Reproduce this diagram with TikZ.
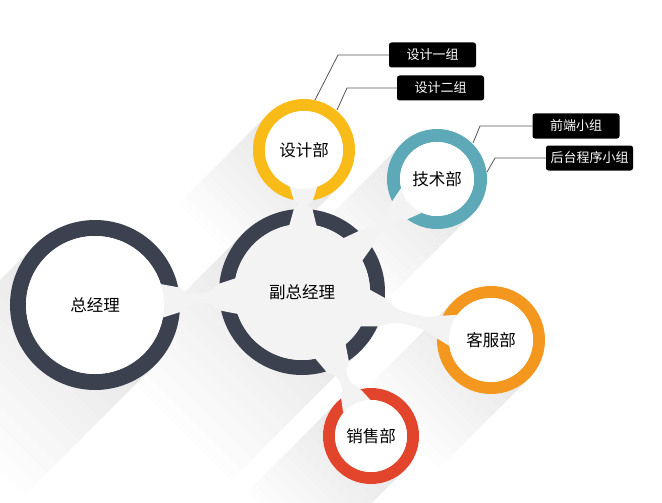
\documentclass[tikz,border=0pt]{standalone}
\usepackage{fontspec}
\newfontfamily\cjk{Noto Sans CJK SC}
\usetikzlibrary{calc}
\definecolor{navy}{HTML}{3C4150}
\definecolor{ylw}{HTML}{F9BB17}
\definecolor{tealc}{HTML}{5EA9B8}
\definecolor{orng}{HTML}{F4971F}
\definecolor{redd}{HTML}{E2452B}
\definecolor{linkc}{HTML}{F3F3F3}
\definecolor{leaderc}{HTML}{555555}

\newcommand\ringdraw[4]{%
  \pgfmathsetmacro\rgR{#2-#3/2}
  \draw[line width=#3pt, #4] (#1) circle (\rgR pt);
}
% layered, fading long shadow: center, radius, max length
\newcommand\longshadow[3]{%
  \foreach \k in {1,...,12}{%
    \pgfmathsetmacro\shL{#3*\k/12}
    \fill[black, opacity=0.006] ($(#1)+(-0.7071*#2,-0.7071*#2)$) -- ($(#1)+(0.7071*#2,0.7071*#2)$)
      -- ($(#1)+(0.7071*#2-\shL,0.7071*#2+\shL)$) -- ($(#1)+(-0.7071*#2-\shL,-0.7071*#2+\shL)$) -- cycle;
  }
}
% #1 c1, #2 r1, #3 t1, #4 a1, #5 c2, #6 r2, #7 t2, #8 a2, #9 mid half-width
\newcommand\makelink[9]{%
  \pgfmathsetmacro\lkIa{#2-#3-3}
  \pgfmathsetmacro\lkOa{#2+1}
  \pgfmathsetmacro\lkIb{#6-#7-3}
  \pgfmathsetmacro\lkOb{#6+1}
  \pgfmathsetmacro\lkWa{#4+5}
  \pgfmathsetmacro\lkWb{#8+5}
  \coordinate (I1) at ($(#1)!\lkIa pt!(#5)$);
  \coordinate (O1) at ($(#1)!\lkOa pt!(#5)$);
  \coordinate (I2) at ($(#5)!\lkIb pt!(#1)$);
  \coordinate (O2) at ($(#5)!\lkOb pt!(#1)$);
  \coordinate (M) at ($(O1)!0.5!(O2)$);
  \coordinate (Q1) at ($(O1)!0.45!(M)$);
  \coordinate (Q2) at ($(O2)!0.45!(M)$);
  \fill[linkc] ($(I1)!\lkWa pt!90:(#5)$) -- ($(O1)!#4pt!90:(#5)$)
    .. controls ($(Q1)!#9pt!90:(#5)$) .. ($(M)!#9pt!90:(#5)$)
    .. controls ($(Q2)!#9pt!90:(#5)$) .. ($(O2)!#8pt!90:(#5)$)
    -- ($(I2)!\lkWb pt!90:(#5)$) -- ($(I2)!\lkWb pt!-90:(#5)$)
    -- ($(O2)!#8pt!-90:(#5)$)
    .. controls ($(Q2)!#9pt!-90:(#5)$) .. ($(M)!#9pt!-90:(#5)$)
    .. controls ($(Q1)!#9pt!-90:(#5)$) .. ($(O1)!#4pt!-90:(#5)$)
    -- ($(I1)!\lkWa pt!-90:(#5)$) -- cycle;
}
\tikzset{
  disc/.style={circle, inner sep=0pt, fill=white, text=black,
    font=\cjk\fontsize{16.5}{18}\selectfont},
  tag/.style={fill=black, rounded corners=2.5pt, text=white, minimum width=87pt,
    minimum height=25pt, inner sep=0pt, font=\cjk\fontsize{13}{15}\selectfont},
  leaderline/.style={draw=leaderc, line width=0.8pt}
}
\begin{document}
\begin{tikzpicture}[x=1pt,y=-1pt]
\useasboundingbox (0,0) rectangle (662,503);
\fill[white] (0,0) rectangle (662,503);
\clip (0,0) rectangle (662,503);

\coordinate (cZ) at (95,305);
\coordinate (cF) at (302,292);
\coordinate (cS) at (304,150);
\coordinate (cJ) at (437,179);
\coordinate (cK) at (491,340);
\coordinate (cX) at (371,436);

% long shadows
\longshadow{cZ}{85}{130}
\longshadow{cF}{83}{130}
\longshadow{cS}{51}{90}
\longshadow{cJ}{50}{90}
\longshadow{cK}{54}{90}
\longshadow{cX}{48}{90}

% rings
\ringdraw{cZ}{85}{16}{navy}
\ringdraw{cF}{83}{15}{navy}
\ringdraw{cS}{51}{12}{ylw}
\ringdraw{cJ}{50}{13}{tealc}
\ringdraw{cK}{54}{12}{orng}
\ringdraw{cX}{48}{12}{redd}

% connectors
\makelink{cZ}{85}{16}{12}{cF}{83}{15}{13}{5}
\makelink{cF}{83}{15}{9}{cS}{51}{12}{9}{5}
\makelink{cF}{83}{15}{10}{cJ}{50}{13}{11}{5}
\makelink{cF}{83}{15}{14}{cK}{54}{12}{11}{6}
\makelink{cF}{83}{15}{12}{cX}{48}{12}{10}{5}

% inner discs with labels
\node[disc, minimum size=138pt] (zjl) at (cZ) {总经理};
\node[disc, fill=linkc, minimum size=136pt] (fzjl) at (cF) {副总经理};
\node[disc, minimum size=78pt] (sjb) at (cS) {设计部};
\node[disc, minimum size=74pt] (jsb) at (cJ) {技术部};
\node[disc, minimum size=84pt] (kfb) at (cK) {客服部};
\node[disc, minimum size=72pt] (xsb) at (cX) {销售部};

% tags
\node[tag] (b1) at (432.5,55) {设计一组};
\node[tag] (b2) at (440.5,88) {设计二组};
\node[tag] (b3) at (576,126) {前端小组};
\node[tag] (b4) at (589.5,158) {后台程序小组};

\coordinate (k1) at (338,55);  \coordinate (e1) at (315,100);
\coordinate (k2) at (347,88);  \coordinate (e2) at (337,110);
\coordinate (k3) at (480,126); \coordinate (e3) at (473,143);
\coordinate (k4) at (495,158); \coordinate (e4) at (487,172);
\draw[leaderline] (b1.west) -- (k1) -- (e1);
\draw[leaderline] (b2.west) -- (k2) -- (e2);
\draw[leaderline] (b3.west) -- (k3) -- (e3);
\draw[leaderline] (b4.west) -- (k4) -- (e4);
\end{tikzpicture}
\end{document}
